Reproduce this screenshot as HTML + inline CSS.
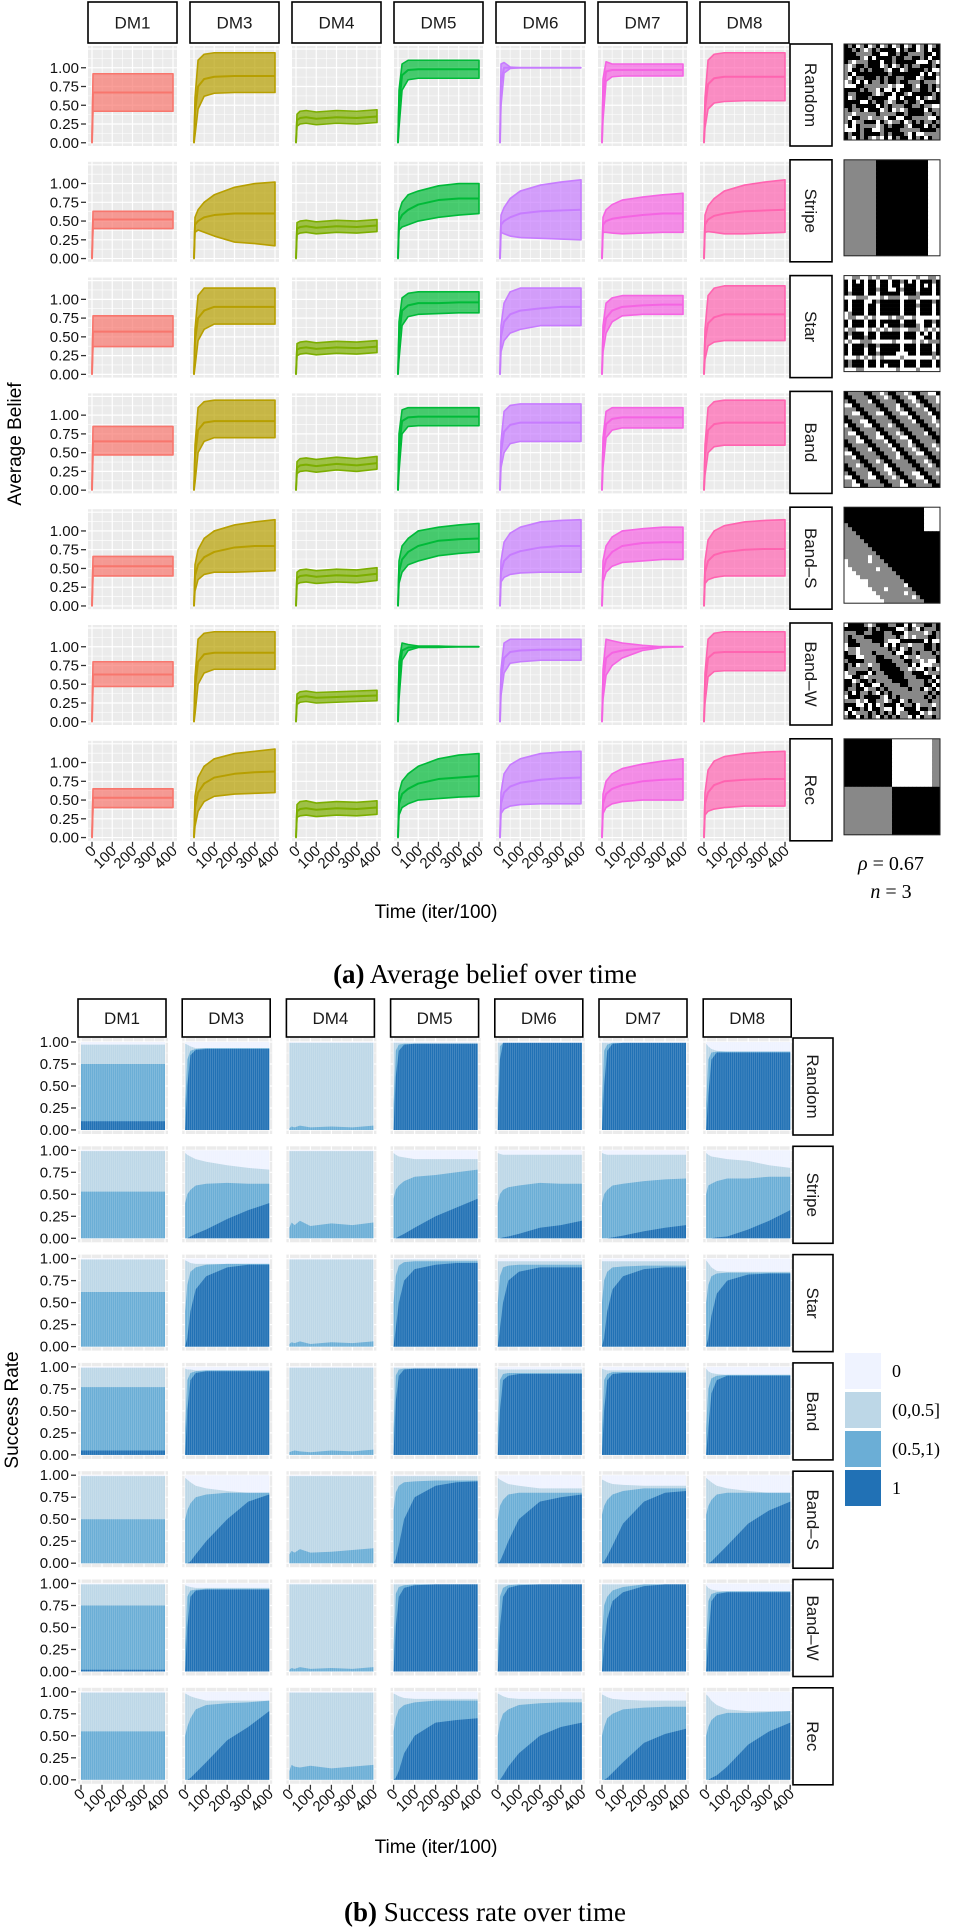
<!DOCTYPE html>
<html><head><meta charset="utf-8">
<style>
html,body{margin:0;padding:0;background:#fff;}
svg{display:block;font-family:"Liberation Sans",sans-serif;}
</style></head>
<body>
<svg id="fig" width="969" height="1928" viewBox="0 0 969 1928" xmlns="http://www.w3.org/2000/svg">
<text x="485" y="983" text-anchor="middle" font-family="Liberation Serif, serif" font-size="27"><tspan font-weight="bold">(a)</tspan> Average belief over time</text>
<text x="485" y="1921" text-anchor="middle" font-family="Liberation Serif, serif" font-size="27"><tspan font-weight="bold">(b)</tspan> Success rate over time</text>
<text x="891" y="870" text-anchor="middle" font-family="Liberation Serif, serif" font-size="20"><tspan font-style="italic">ρ</tspan> = 0.67</text>
<text x="891" y="898" text-anchor="middle" font-family="Liberation Serif, serif" font-size="20"><tspan font-style="italic">n</tspan> = 3</text>
</svg>
<script>
const methods=["DM1","DM3","DM4","DM5","DM6","DM7","DM8"];
const patterns=["Random","Stripe","Star","Band","Band\u2013S","Band\u2013W","Rec"];
const methodColors=["#F8766D","#B79F00","#7CAE00","#00BA38","#C77CFF","#F564E3","#FF64B0"];
const yTicks=[0,0.25,0.5,0.75,1];
const yTickLabels=["0.00","0.25","0.50","0.75","1.00"];
const xTicks=[0,100,200,300,400];
const xTickLabels=["0","100","200","300","400"];
const beliefTimes=[0,5,20,50,100,200,300,400];
const meanDM1=[[0,.67,.67,.67,.67,.67,.67,.67],[0,.52,.52,.52,.52,.52,.52,.52],[0,.57,.57,.57,.57,.57,.57,.57],[0,.65,.65,.65,.65,.65,.65,.65],[0,.53,.53,.53,.53,.53,.53,.53],[0,.63,.63,.63,.63,.63,.63,.63],[0,.53,.53,.53,.53,.53,.53,.53]];
const hiDM1=[[0,.92,.92,.92,.92,.92,.92,.92],[0,.63,.63,.63,.63,.63,.63,.63],[0,.78,.78,.78,.78,.78,.78,.78],[0,.85,.85,.85,.85,.85,.85,.85],[0,.66,.66,.66,.66,.66,.66,.66],[0,.80,.80,.80,.80,.80,.80,.80],[0,.65,.65,.65,.65,.65,.65,.65]];
const loDM1=[[0,.42,.42,.42,.42,.42,.42,.42],[0,.40,.40,.40,.40,.40,.40,.40],[0,.37,.37,.37,.37,.37,.37,.37],[0,.47,.47,.47,.47,.47,.47,.47],[0,.40,.40,.40,.40,.40,.40,.40],[0,.47,.47,.47,.47,.47,.47,.47],[0,.40,.40,.40,.40,.40,.40,.40]];
const meanDM3=[[0,.4,.75,.85,.88,.89,.89,.89],[0,.45,.5,.55,.58,.6,.6,.6],[0,.45,.75,.85,.9,.9,.9,.9],[0,.45,.8,.9,.92,.92,.92,.92],[0,.4,.55,.65,.72,.78,.8,.8],[0,.45,.8,.9,.92,.92,.92,.92],[0,.4,.6,.72,.8,.85,.87,.88]];
const hiDM3=[[0,.6,1.1,1.18,1.2,1.2,1.2,1.2],[0,.55,.65,.75,.85,.95,1,1.02],[0,.6,1.05,1.15,1.15,1.15,1.15,1.15],[0,.6,1.1,1.18,1.2,1.2,1.2,1.2],[0,.55,.75,.9,1,1.08,1.12,1.15],[0,.6,1.1,1.18,1.2,1.2,1.2,1.2],[0,.55,.8,.95,1.05,1.12,1.15,1.18]];
const loDM3=[[0,.1,.45,.62,.66,.67,.67,.67],[0,.35,.38,.35,.3,.22,.2,.17],[0,.1,.45,.6,.67,.67,.67,.67],[0,.1,.5,.65,.7,.7,.7,.7],[0,.2,.35,.42,.45,.45,.46,.47],[0,.1,.5,.65,.7,.7,.7,.7],[0,.15,.35,.48,.55,.58,.59,.6]];
const meanDM4=[[0,.3,.33,.34,.32,.34,.33,.35],[0,.4,.42,.43,.41,.43,.42,.44],[0,.33,.35,.36,.34,.36,.35,.37],[0,.3,.33,.34,.32,.35,.33,.36],[0,.37,.4,.41,.39,.41,.4,.43],[0,.3,.33,.34,.32,.33,.34,.35],[0,.35,.38,.39,.37,.39,.38,.4]];
const hiDM4=[[0,.38,.42,.43,.41,.43,.42,.44],[0,.48,.5,.51,.49,.51,.5,.52],[0,.41,.43,.44,.42,.44,.43,.45],[0,.38,.42,.43,.41,.44,.42,.45],[0,.45,.48,.49,.47,.49,.48,.51],[0,.37,.4,.41,.39,.4,.41,.42],[0,.44,.48,.49,.46,.48,.47,.49]];
const loDM4=[[0,.22,.25,.26,.24,.26,.25,.27],[0,.32,.34,.35,.33,.35,.34,.36],[0,.25,.27,.28,.26,.28,.27,.29],[0,.22,.25,.26,.24,.27,.25,.28],[0,.29,.31,.32,.3,.32,.31,.34],[0,.23,.26,.27,.25,.26,.27,.28],[0,.27,.29,.3,.28,.3,.29,.31]];
const meanDM5=[[0,.5,.9,.97,.98,.98,.98,.98],[0,.5,.58,.65,.72,.78,.8,.8],[0,.5,.85,.92,.95,.95,.96,.96],[0,.55,.92,.97,.98,.98,.98,.98],[0,.45,.62,.72,.8,.87,.89,.9],[0,.6,.95,.99,1,1,1,1],[0,.45,.58,.65,.72,.78,.8,.82]];
const hiDM5=[[0,.7,1.05,1.1,1.1,1.1,1.1,1.1],[0,.62,.75,.85,.9,.97,1,1],[0,.7,1.02,1.08,1.1,1.1,1.1,1.1],[0,.75,1.07,1.1,1.1,1.1,1.1,1.1],[0,.6,.8,.9,1,1.05,1.08,1.1],[0,.8,1.05,1.03,1.01,1.01,1,1],[0,.6,.75,.85,.95,1.05,1.1,1.12]];
const loDM5=[[0,.2,.7,.84,.86,.86,.86,.86],[0,.38,.42,.45,.5,.55,.58,.6],[0,.2,.65,.77,.8,.81,.82,.82],[0,.25,.75,.85,.86,.86,.86,.86],[0,.3,.45,.55,.6,.67,.7,.72],[0,.3,.82,.95,.99,.99,1,1],[0,.3,.4,.45,.5,.52,.54,.55]];
const meanDM6=[[0,.8,1,1,1,1,1,1],[0,.45,.5,.55,.6,.63,.64,.65],[0,.5,.7,.8,.85,.88,.9,.9],[0,.5,.78,.87,.9,.9,.9,.9],[0,.45,.6,.68,.73,.78,.8,.8],[0,.55,.85,.93,.95,.96,.96,.96],[0,.45,.6,.68,.73,.77,.79,.8]];
const hiDM6=[[0,1.05,1.07,1.01,1,1,1,1],[0,.58,.68,.8,.9,.98,1.02,1.05],[0,.65,.95,1.1,1.15,1.15,1.15,1.15],[0,.65,1.05,1.13,1.15,1.15,1.15,1.15],[0,.6,.85,.97,1.05,1.12,1.14,1.15],[0,.7,1.05,1.1,1.1,1.1,1.1,1.1],[0,.6,.85,.97,1.05,1.12,1.14,1.15]];
const loDM6=[[0,.5,.93,.99,1,1,1,1],[0,.35,.33,.3,.28,.27,.26,.25],[0,.3,.45,.55,.6,.65,.65,.65],[0,.3,.5,.62,.65,.65,.65,.65],[0,.32,.38,.42,.44,.45,.45,.45],[0,.35,.65,.78,.8,.82,.82,.82],[0,.32,.38,.42,.44,.45,.45,.45]];
const meanDM7=[[0,.6,.95,.97,.97,.97,.97,.97],[0,.45,.5,.53,.55,.58,.6,.6],[0,.5,.75,.85,.9,.92,.93,.93],[0,.55,.88,.95,.97,.97,.97,.97],[0,.45,.62,.72,.8,.84,.85,.85],[0,.5,.85,.92,.95,.98,1,1],[0,.45,.58,.65,.7,.75,.77,.78]];
const hiDM7=[[0,.85,1.08,1.05,1.05,1.05,1.05,1.05],[0,.55,.65,.72,.78,.82,.85,.87],[0,.65,.95,1.02,1.05,1.05,1.05,1.05],[0,.7,1.05,1.1,1.1,1.1,1.1,1.1],[0,.6,.8,.92,1,1.03,1.05,1.05],[0,.7,1.1,1.08,1.05,1.02,1,1],[0,.58,.75,.85,.92,.98,1.02,1.05]];
const loDM7=[[0,.3,.82,.88,.89,.89,.89,.89],[0,.35,.35,.34,.33,.34,.35,.35],[0,.3,.55,.7,.78,.8,.8,.8],[0,.3,.7,.8,.83,.83,.83,.83],[0,.32,.45,.53,.58,.6,.62,.62],[0,.3,.62,.75,.85,.95,.99,1],[0,.32,.4,.45,.48,.5,.5,.5]];
const meanDM8=[[0,.45,.78,.86,.88,.88,.88,.88],[0,.45,.52,.57,.6,.63,.64,.65],[0,.45,.68,.76,.8,.8,.8,.8],[0,.45,.8,.88,.9,.9,.9,.9],[0,.45,.6,.68,.72,.75,.76,.76],[0,.5,.85,.92,.93,.93,.93,.93],[0,.45,.6,.7,.75,.77,.78,.78]];
const hiDM8=[[0,.6,1.1,1.18,1.2,1.2,1.2,1.2],[0,.58,.7,.8,.9,.98,1.02,1.05],[0,.6,1.05,1.15,1.18,1.18,1.18,1.18],[0,.6,1.1,1.18,1.2,1.2,1.2,1.2],[0,.6,.88,1,1.07,1.12,1.14,1.15],[0,.65,1.1,1.18,1.2,1.2,1.2,1.2],[0,.6,.9,1.02,1.08,1.12,1.14,1.15]];
const loDM8=[[0,.2,.45,.53,.55,.56,.56,.56],[0,.35,.36,.35,.33,.33,.34,.35],[0,.2,.38,.43,.45,.45,.45,.45],[0,.2,.5,.58,.6,.6,.6,.6],[0,.3,.35,.38,.4,.4,.4,.4],[0,.25,.6,.67,.68,.68,.68,.68],[0,.3,.35,.38,.4,.42,.42,.42]];

const successTimes=[0,10,25,50,100,200,300,400];
const darkDM1=[[.1,.1,.1,.1,.1,.1,.1,.1],[0,0,0,0,0,0,0,0],[0,0,0,0,0,0,0,0],[.05,.05,.05,.05,.05,.05,.05,.05],[0,0,0,0,0,0,0,0],[.02,.02,.02,.02,.02,.02,.02,.02],[0,0,0,0,0,0,0,0]];
const midDM1=[[.75,.75,.75,.75,.75,.75,.75,.75],[.53,.53,.53,.53,.53,.53,.53,.53],[.62,.62,.62,.62,.62,.62,.62,.62],[.77,.77,.77,.77,.77,.77,.77,.77],[.5,.5,.5,.5,.5,.5,.5,.5],[.75,.75,.75,.75,.75,.75,.75,.75],[.55,.55,.55,.55,.55,.55,.55,.55]];
const lightDM1=[[.97,.97,.97,.97,.97,.97,.97,.97],[.99,.99,.99,.99,.99,.99,.99,.99],[.99,.99,.99,.99,.99,.99,.99,.99],[.99,.99,.99,.99,.99,.99,.99,.99],[.99,.99,.99,.99,.99,.99,.99,.99],[.99,.99,.99,.99,.99,.99,.99,.99],[.99,.99,.99,.99,.99,.99,.99,.99]];
const darkDM3=[[0,.5,.85,.91,.92,.92,.92,.92],[0,0,.02,.05,.1,.22,.32,.4],[0,.1,.4,.65,.8,.9,.93,.93],[0,.5,.85,.93,.95,.95,.95,.95],[0,0,.02,.1,.25,.5,.7,.78],[0,.5,.85,.92,.93,.93,.93,.93],[0,0,.02,.08,.2,.45,.6,.78]];
const midDM3=[[.3,.8,.9,.92,.93,.93,.93,.93],[.4,.5,.55,.6,.62,.63,.62,.62],[.4,.7,.85,.9,.93,.94,.94,.94],[.3,.85,.93,.95,.96,.96,.96,.96],[.5,.6,.68,.75,.78,.8,.8,.8],[.3,.85,.92,.93,.94,.94,.94,.94],[.5,.6,.7,.8,.85,.87,.88,.9]];
const lightDM3=[[.98,.97,.95,.93,.93,.93,.93,.93],[.97,.95,.93,.9,.87,.83,.8,.78],[.98,.97,.95,.94,.94,.94,.94,.94],[.98,.97,.97,.96,.96,.96,.96,.96],[.97,.95,.92,.88,.85,.82,.8,.8],[.98,.97,.96,.95,.95,.95,.95,.95],[.98,.97,.95,.93,.9,.9,.9,.9]];
const darkDM4=[[0,0,0,0,0,0,0,0],[0,0,0,0,0,0,0,0],[0,0,0,0,0,0,0,0],[0,0,0,0,0,0,0,0],[0,0,0,0,0,0,0,0],[0,0,0,0,0,0,0,0],[0,0,0,0,0,0,0,0]];
const midDM4=[[.02,.04,.03,.05,.03,.04,.03,.05],[.12,.18,.15,.2,.14,.17,.15,.18],[.03,.05,.04,.06,.03,.05,.04,.06],[.03,.04,.05,.04,.03,.05,.04,.06],[.1,.14,.12,.16,.12,.13,.15,.17],[.02,.04,.03,.05,.03,.04,.03,.05],[.1,.17,.15,.14,.16,.13,.15,.17]];
const lightDM4=[[.99,.99,.99,.99,.99,.99,.99,.99],[.99,.99,.99,.99,.99,.99,.99,.99],[.99,.99,.99,.99,.99,.99,.99,.99],[.99,.99,.99,.99,.99,.99,.99,.99],[.99,.99,.99,.99,.99,.99,.99,.99],[.99,.99,.99,.99,.99,.99,.99,.99],[.99,.99,.99,.99,.99,.99,.99,.99]];
const darkDM5=[[0,.6,.9,.97,.98,.98,.98,.98],[0,0,.02,.05,.12,.25,.35,.45],[0,.2,.5,.75,.88,.93,.95,.95],[0,.6,.9,.97,.98,.98,.98,.98],[0,.05,.2,.5,.75,.88,.92,.93],[0,.5,.85,.95,.98,.99,.99,.99],[0,.02,.1,.3,.5,.65,.68,.7]];
const midDM5=[[.3,.9,.97,.98,.98,.98,.98,.98],[.45,.55,.6,.65,.7,.72,.75,.78],[.5,.8,.92,.96,.97,.97,.97,.97],[.3,.9,.97,.98,.98,.98,.98,.98],[.6,.8,.88,.92,.93,.94,.94,.94],[.3,.88,.96,.98,.99,.99,.99,.99],[.55,.7,.8,.85,.88,.9,.9,.9]];
const lightDM5=[[.99,.99,.99,.99,.99,.99,.99,.99],[.97,.95,.93,.92,.9,.9,.9,.9],[.99,.99,.99,.99,.99,.99,.99,.99],[.99,.99,.99,.99,.99,.99,.99,.99],[.99,.99,.99,.99,.99,.99,.99,.99],[.99,.99,.99,.99,.99,.99,.99,.99],[.98,.97,.95,.93,.92,.92,.92,.92]];
const darkDM6=[[0,.8,.99,.99,.99,.99,.99,.99],[0,0,.01,.02,.05,.12,.15,.2],[0,.2,.5,.75,.85,.9,.9,.9],[0,.5,.85,.9,.92,.92,.92,.92],[0,.02,.1,.25,.5,.7,.75,.78],[0,.5,.85,.95,.98,.99,.99,.99],[0,0,.05,.15,.3,.5,.6,.65]];
const midDM6=[[.3,.95,.99,.99,.99,.99,.99,.99],[.4,.5,.55,.58,.6,.63,.62,.62],[.5,.8,.9,.92,.93,.93,.93,.93],[.3,.85,.92,.93,.93,.93,.93,.93],[.5,.65,.72,.78,.8,.8,.8,.8],[.3,.85,.95,.98,.99,.99,.99,.99],[.5,.65,.75,.8,.85,.87,.88,.88]];
const lightDM6=[[.99,.99,.99,.99,.99,.99,.99,.99],[.97,.96,.95,.95,.95,.95,.95,.95],[.97,.97,.97,.97,.97,.97,.97,.97],[.98,.97,.97,.97,.97,.97,.97,.97],[.97,.95,.93,.9,.88,.85,.85,.85],[.99,.99,.99,.99,.99,.99,.99,.99],[.98,.97,.95,.93,.92,.92,.92,.92]];
const darkDM7=[[0,.5,.9,.98,.99,.99,.99,.99],[0,0,0,.01,.03,.08,.12,.15],[0,.1,.4,.65,.8,.88,.9,.9],[0,.5,.85,.92,.93,.93,.93,.93],[0,.02,.08,.2,.45,.7,.8,.82],[0,.3,.6,.8,.9,.97,.99,.99],[0,0,.02,.08,.2,.42,.52,.58]];
const midDM7=[[.3,.9,.97,.99,.99,.99,.99,.99],[.4,.5,.55,.6,.62,.65,.67,.68],[.5,.75,.85,.9,.91,.92,.92,.92],[.3,.85,.92,.94,.94,.94,.94,.94],[.55,.65,.72,.78,.82,.85,.85,.85],[.4,.75,.85,.92,.96,.99,.99,.99],[.5,.6,.7,.75,.8,.82,.83,.83]];
const lightDM7=[[.99,.99,.99,.99,.99,.99,.99,.99],[.97,.96,.95,.95,.95,.95,.95,.95],[.97,.97,.97,.97,.97,.97,.97,.97],[.98,.97,.96,.96,.96,.96,.96,.96],[.95,.94,.92,.9,.89,.88,.88,.88],[.99,.99,.99,.99,.99,.99,.99,.99],[.97,.96,.94,.92,.91,.9,.9,.9]];
const darkDM8=[[0,.4,.8,.88,.88,.88,.88,.88],[0,0,0,.01,.02,.1,.2,.32],[0,.1,.35,.6,.75,.82,.83,.83],[0,.3,.7,.85,.9,.9,.9,.9],[0,0,.02,.08,.2,.45,.6,.7],[0,.4,.8,.88,.9,.9,.9,.9],[0,0,.02,.05,.15,.4,.55,.65]];
const midDM8=[[.3,.8,.88,.89,.89,.89,.89,.89],[.5,.6,.62,.65,.68,.68,.7,.7],[.5,.7,.8,.83,.84,.84,.84,.84],[.3,.75,.87,.9,.91,.91,.91,.91],[.55,.65,.72,.78,.8,.8,.8,.8],[.3,.8,.88,.9,.91,.91,.91,.91],[.5,.6,.68,.73,.76,.76,.77,.78]];
const lightDM8=[[.98,.95,.92,.9,.89,.89,.89,.89],[.97,.95,.93,.92,.9,.88,.83,.8],[.98,.95,.9,.86,.85,.85,.85,.85],[.98,.95,.93,.92,.91,.91,.91,.91],[.97,.95,.92,.88,.85,.82,.8,.8],[.98,.95,.93,.92,.91,.91,.91,.91],[.97,.95,.9,.85,.8,.78,.78,.78]];
const legendLabels=["0","(0,0.5]","(0.5,1)","1"];
const legendColors=["#EFF3FF","#BDD7E7","#6BAED6","#2171B5"];

const beliefMean=[meanDM1,meanDM3,meanDM4,meanDM5,meanDM6,meanDM7,meanDM8];
const beliefHi=[hiDM1,hiDM3,hiDM4,hiDM5,hiDM6,hiDM7,hiDM8];
const beliefLo=[loDM1,loDM3,loDM4,loDM5,loDM6,loDM7,loDM8];
const succDark=[darkDM1,darkDM3,darkDM4,darkDM5,darkDM6,darkDM7,darkDM8];
const succMid=[midDM1,midDM3,midDM4,midDM5,midDM6,midDM7,midDM8];
const succLight=[lightDM1,lightDM3,lightDM4,lightDM5,lightDM6,lightDM7,lightDM8];

const svg=document.getElementById('fig');
const NS="http://www.w3.org/2000/svg";
function mk(tag,attrs,parent){const e=document.createElementNS(NS,tag);for(const k in attrs)e.setAttribute(k,attrs[k]);(parent||svg).appendChild(e);return e;}
function txt(s,attrs,parent){const e=mk('text',attrs,parent);e.textContent=s;return e;}

function panelBg(g,L,T,W,H,xs,ys,yMajors,yMinors){
  const bg=mk('rect',{x:L,y:T,width:W,height:H,fill:'#EBEBEB'},g);
  
  
  [50,150,250,350].forEach(t=>mk('line',{x1:xs(t),x2:xs(t),y1:T,y2:T+H,stroke:'#fff','stroke-width':0.6},g));
  xTicks.forEach(t=>mk('line',{x1:xs(t),x2:xs(t),y1:T,y2:T+H,stroke:'#fff','stroke-width':1.2},g));
  yMinors.forEach(v=>mk('line',{x1:L,x2:L+W,y1:ys(v),y2:ys(v),stroke:'#fff','stroke-width':0.6},g));
  yMajors.forEach(v=>mk('line',{x1:L,x2:L+W,y1:ys(v),y2:ys(v),stroke:'#fff','stroke-width':1.2},g));
}
function topStrip(x,y,w,h,label,name){
  const r=mk('rect',{x:x,y:y,width:w,height:h,fill:'#fff',stroke:'#000','stroke-width':1.6});
  
  
  txt(label,{x:x+w/2,y:y+h/2+6,'text-anchor':'middle','font-size':17,fill:'#1a1a1a'});
}
function sideStrip(x,y,w,h,label,name){
  const r=mk('rect',{x:x,y:y,width:w,height:h,fill:'#fff',stroke:'#000','stroke-width':1.6});
  
  
  txt(label,{x:0,y:0,'text-anchor':'middle','font-size':17,fill:'#1a1a1a',transform:`translate(${x+w/2-6},${y+h/2}) rotate(90)`});
}
function yAxis(xEdge,ys){
  yTicks.forEach((v,i)=>{
    mk('line',{x1:xEdge-5,x2:xEdge,y1:ys(v),y2:ys(v),stroke:'#333','stroke-width':1.3});
    const t=txt(yTickLabels[i],{x:xEdge-7,y:ys(v)+5,'text-anchor':'end','font-size':15,fill:'#111'});
    
    
  });
}
function xAxis(xs,yEdge){
  xTicks.forEach((v,i)=>{
    mk('line',{x1:xs(v),x2:xs(v),y1:yEdge,y2:yEdge+5,stroke:'#333','stroke-width':1.3});
    const t=txt(xTickLabels[i],{x:0,y:0,'text-anchor':'end','font-size':15,fill:'#111',transform:`translate(${xs(v)+5},${yEdge+10}) rotate(-45)`});
    
    
  });
}
function pathFrom(xsArr,ysArr){return xsArr.map((x,i)=>(i?'L':'M')+x.toFixed(2)+','+ysArr[i].toFixed(2)).join('');}

// ---------- (a) average belief ----------
const A={L0:88,pitch:102,W:89,T0:46,rp:115.8,H:100};
methods.forEach((m,c)=>{
  const L=A.L0+c*A.pitch;
  topStrip(L,2,A.W,41,m,'strip-top-'+m.toLowerCase());
  patterns.forEach((p,r)=>{
    const T=A.T0+r*A.rp;
    const xs=t=>L+4+t/400*81;
    const ys=v=>T+(1.29-v)*75;
    const g=mk('g',{});
    
    
    panelBg(g,L,T,A.W,A.H,xs,ys,[0,.25,.5,.75,1,1.25],[.125,.375,.625,.875,1.125]);
    const hi=beliefHi[c][r],lo=beliefLo[c][r],mean=beliefMean[c][r];
    const px=beliefTimes.map(xs);
    const d=pathFrom(px,hi.map(ys))+pathFrom(px.slice().reverse(),lo.map(ys).reverse()).replace('M','L')+'Z';
    const rib=mk('path',{d:d,fill:methodColors[c],'fill-opacity':0.7,stroke:methodColors[c],'stroke-width':1.6,'stroke-linejoin':'round'},g);
    
    
    const ml=mk('path',{d:pathFrom(px,mean.map(ys)),fill:'none',stroke:methodColors[c],'stroke-width':2,'stroke-linejoin':'round'},g);
    
    
    if(c===0) yAxis(L-2,ys);
    if(r===patterns.length-1) xAxis(xs,T+A.H+1);
  });
});
patterns.forEach((p,r)=>sideStrip(790,A.T0+r*A.rp-2,42,A.H+2,p,'strip-side-a-'+r));
const tA=txt('Time (iter/100)',{x:436,y:918,'text-anchor':'middle','font-size':19});


const yA=txt('Average Belief',{x:0,y:0,'text-anchor':'middle','font-size':19,transform:'translate(21,444) rotate(-90)'});



function cellVal(p,i,j){
  const h=((i*73856093)^(j*19349663)^(p*83492791))>>>0;
  const hv=(h%1000)/1000;
  const lv=hv<0.45?0:hv<0.8?0.5:1;
  switch(p){
    case 0: return lv;
    case 1: return j<8?0.5:j<21?0:1;
    case 2: return ([1,5,8,14,18,22].includes(j)||[0,5,10,13,16,20,23].includes(i))?(hv<0.3?0.5:1):(hv<0.05?1:0);
    case 3: {const k=(i-j+48)%6; return k<2?0:(k<4?(hv<0.5?0.5:1):0.5);}
    case 4: {const s=i-j; return s<-8?(j>19&&i<6?1:0):(s<4?0:(s<14?(hv<0.06?1:0.5):1));}
    case 5: {const s=i-j,t=i+j-23; const d=Math.abs(s)/1.0+Math.abs(t)/3.5; return d<3?0:(d<6?0.5:lv);}
    case 6: return (i<12&&j<12)?0:(i<12?(j<22?1:0.5):(j<12?0.5:0));
  }
}
patterns.forEach((p,r)=>{
  const T=A.T0+r*A.rp-2, L=844, N=24, s=96/N;
  const g=mk('g',{});
  
  
  for(let i=0;i<N;i++)for(let j=0;j<N;j++){
    const v=cellVal(r,i,j); const cl=v===0?'#000':v===0.5?'#888':'#fff';
    mk('rect',{x:(L+j*s).toFixed(2),y:(T+i*s).toFixed(2),width:s+0.3,height:s+0.3,fill:cl},g);
  }
  mk('rect',{x:L,y:T,width:96,height:96,fill:'none',stroke:'#222','stroke-width':1},g);
});

// ---------- (b) success rate ----------
const B={L0:78,pitch:104.2,W:90,T0:1038,rp:108.3,H:96};
methods.forEach((m,c)=>{
  const L=B.L0+c*B.pitch;
  topStrip(L,999,B.W-2,38,m,'strip-top-b-'+m.toLowerCase());
  patterns.forEach((p,r)=>{
    const T=B.T0+r*B.rp;
    const xs=t=>L+3+t/400*84;
    const ys=v=>T+4+(1-v)*88;
    const g=mk('g',{});
    
    
    panelBg(g,L,T,B.W,B.H,xs,ys,[0,.25,.5,.75,1],[.125,.375,.625,.875]);
    const px=successTimes.map(xs);
    const x0=px[0],x1=px[px.length-1];
    const layers=[[succLight[c][r].map(()=>1),legendColors[0],'layer-zero'],[succLight[c][r],legendColors[1],'layer-low'],[succMid[c][r],legendColors[2],'layer-high'],[succDark[c][r],legendColors[3],'layer-full']];
    layers.forEach(([vals,col,nm])=>{
      const d=pathFrom(px,vals.map(ys))+`L${x1},${ys(0)}L${x0},${ys(0)}Z`;
      const e=mk('path',{d:d,fill:col},g);
      
      
    });
    for(let t=10;t<400;t+=10){mk('line',{x1:xs(t),x2:xs(t),y1:ys(1),y2:ys(0),stroke:'#fff','stroke-opacity':0.25,'stroke-width':0.6},g);}
    if(c===0) yAxis(L-2,ys);
    if(r===patterns.length-1) xAxis(xs,T+B.H+1);
  });
});
patterns.forEach((p,r)=>sideStrip(793,B.T0+r*B.rp,40,97,p,'strip-side-b-'+r));
const tB=txt('Time (iter/100)',{x:436,y:1853,'text-anchor':'middle','font-size':19});


const yB=txt('Success Rate',{x:0,y:0,'text-anchor':'middle','font-size':19,transform:'translate(18,1410) rotate(-90)'});



legendLabels.forEach((lab,i)=>{
  const y=1353+i*39;
  const k=mk('rect',{x:845,y:y,width:36,height:36,fill:legendColors[i]});
  
  
  const t=txt(lab,{x:892,y:y+24,'font-size':18,'font-family':'Liberation Serif, serif'});
  
  
});
</script>
</body></html>
